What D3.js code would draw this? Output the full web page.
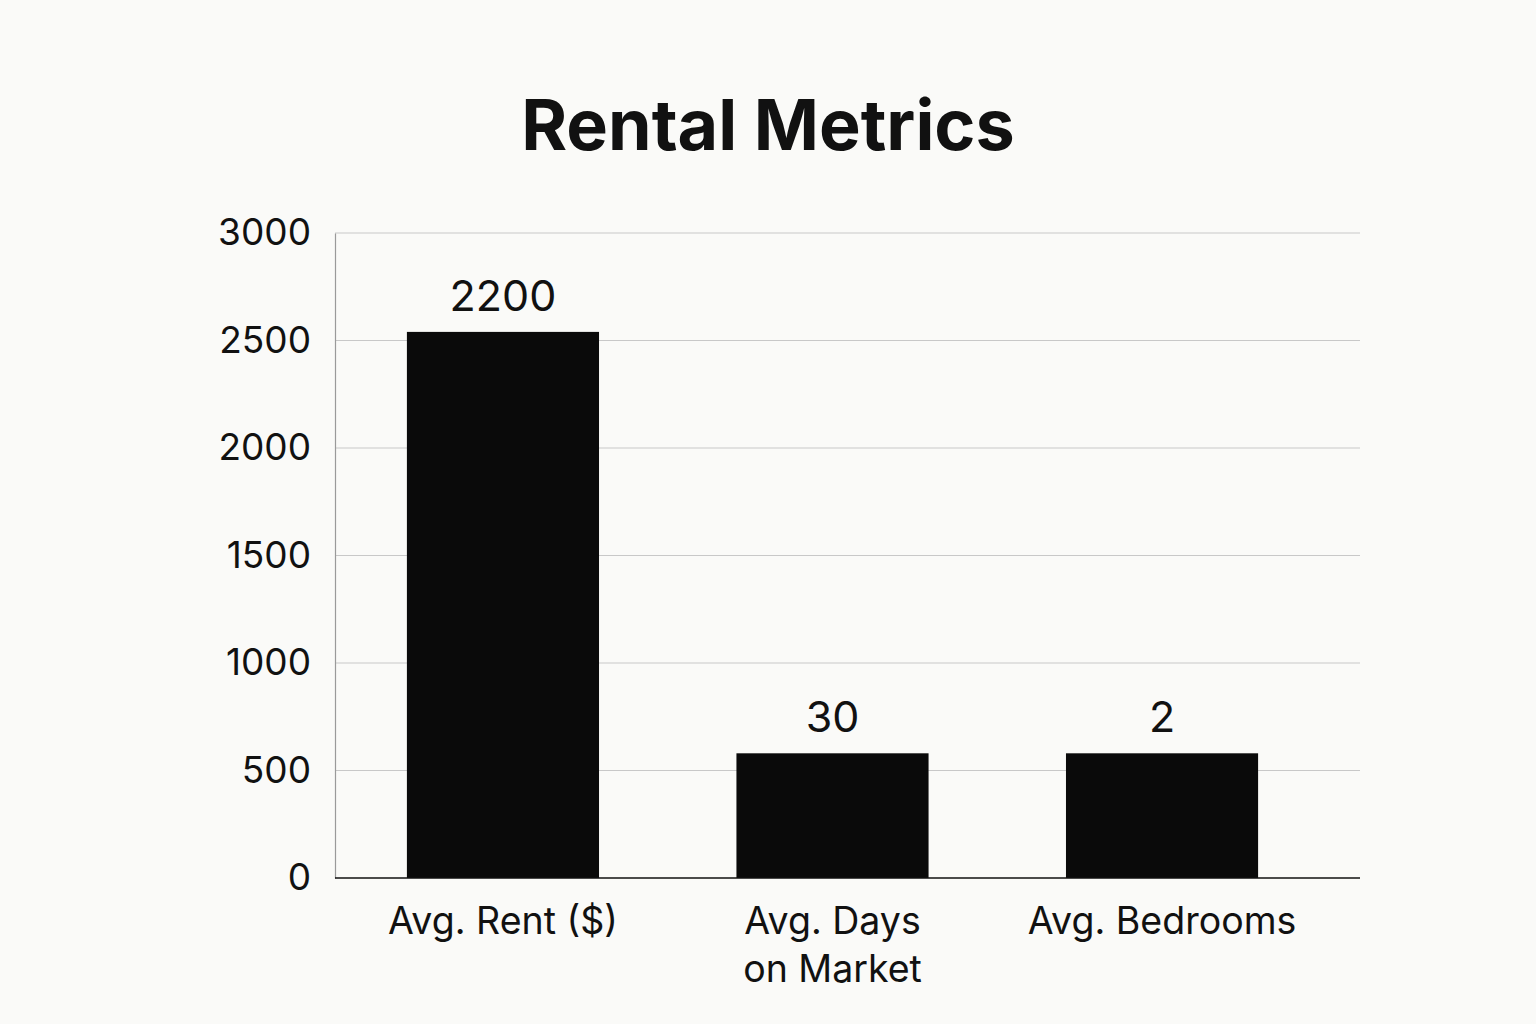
<!DOCTYPE html>
<html>
<head>
<meta charset="utf-8">
<script src="https://cdn.jsdelivr.net/npm/d3@7"></script>
<style>
html,body{margin:0;padding:0;background:#fafaf8;}
svg{display:block;}
text{font-family:Inter, "Liberation Sans", Arial, sans-serif;fill:#111;}
</style>
</head>
<body>
<svg id="chart" width="1536" height="1024"></svg>
<script>
const title = "Rental Metrics";
const categories = ["Avg. Rent ($)", "Avg. Days\non Market", "Avg. Bedrooms"];
const barHeights = [2540, 580, 580];
const valueLabels = ["2200", "30", "2"];
const yTicks = [0, 500, 1000, 1500, 2000, 2500, 3000];

const svg = d3.select("#chart");
const plot = {left: 335, right: 1360, top: 233, bottom: 878};
const FONT = "Inter, Liberation Sans, Arial, sans-serif";

const y = d3.scaleLinear().domain([0, 3000]).range([plot.bottom, plot.top]);
const x = d3.scaleBand().domain(categories)
  .range([341, 1324]).paddingInner(0.417).paddingOuter(0.2);

svg.append("rect").attr("width", 1536).attr("height", 1024).attr("fill", "#fafaf8");

svg.append("text").attr("x", 768).attr("y", 150).attr("text-anchor", "middle")
  .attr("font-size", 70).attr("font-weight", "bold").text(title);

// gridlines
svg.append("g").selectAll("line").data(yTicks.filter(d => d > 0)).join("line")
  .attr("x1", plot.left).attr("x2", plot.right)
  .attr("y1", d => y(d)).attr("y2", d => y(d))
  .attr("stroke", "#c8c8c8").attr("stroke-width", 1.2);

// y axis
const yAxis = d3.axisLeft(y).tickValues(yTicks).tickFormat(d3.format("d")).tickSize(0).tickPadding(24);
const gy = svg.append("g").attr("transform", `translate(${plot.left},0)`).call(yAxis);
gy.select(".domain").attr("stroke", "#9a9a9a").attr("stroke-width", 1.2);
gy.selectAll("text").attr("font-size", 37).attr("fill", "#111")
  .attr("font-family", FONT);

// bars
svg.append("g").selectAll("rect").data(categories).join("rect")
  .attr("x", d => x(d)).attr("width", x.bandwidth())
  .attr("y", (d, i) => y(barHeights[i]))
  .attr("height", (d, i) => y(0) - y(barHeights[i]))
  .attr("fill", "#0a0a0a");

// baseline
svg.append("line").attr("x1", plot.left).attr("x2", plot.right)
  .attr("y1", y(0)).attr("y2", y(0)).attr("stroke", "#111").attr("stroke-width", 1.5);

// value labels
svg.append("g").selectAll("text").data(categories).join("text")
  .attr("x", d => x(d) + x.bandwidth() / 2)
  .attr("y", (d, i) => y(barHeights[i]) - 21)
  .attr("text-anchor", "middle").attr("font-size", 43)
  .text((d, i) => valueLabels[i]);

// category labels
const cl = svg.append("g").selectAll("text").data(categories).join("text")
  .attr("x", d => x(d) + x.bandwidth() / 2)
  .attr("y", 934)
  .attr("text-anchor", "middle").attr("font-size", 37.5);
cl.each(function(d) {
  const t = d3.select(this);
  d.split("\n").forEach((line, i) => {
    t.append("tspan").attr("x", x(d) + x.bandwidth() / 2)
      .attr("dy", i === 0 ? 0 : 48).text(line);
  });
});
</script>
</body>
</html>
